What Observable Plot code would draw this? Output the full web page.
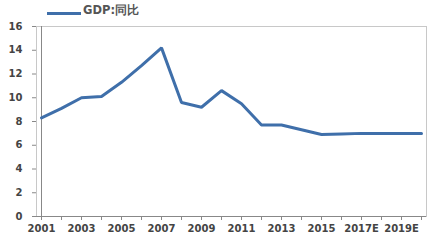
<!DOCTYPE html>
<html><head><meta charset="utf-8">
<script src="https://cdn.jsdelivr.net/npm/d3@7"></script>
<script src="https://cdn.jsdelivr.net/npm/@observablehq/plot@0.6"></script>
<style>
body{margin:0;background:#fff;font-family:"DejaVu Sans",Verdana,sans-serif;}
#legend{height:20px;position:relative;}
#legend .sw{position:absolute;left:47px;top:12px;width:34px;height:3px;background:#3f6faa;}
#legend .tx{position:absolute;left:83px;top:3px;font-size:11.5px;font-weight:bold;color:#555;}
</style></head>
<body>
<div id="legend"><span class="sw"></span><span class="tx">GDP:同比</span></div>
<div id="chart"></div>
<script>
const years = ["2001","2002","2003","2004","2005","2006","2007","2008","2009","2010","2011","2012","2013","2014","2015","2016E","2017E","2018E","2019E","2020E"];
const gdp = [8.3,9.1,10.0,10.1,11.3,12.7,14.2,9.6,9.2,10.6,9.5,7.7,7.7,7.3,6.9,6.95,7.0,7.0,7.0,7.0];
const yTicks = [0,2,4,6,8,10,12,14,16];
const labelYears = ["2001","2003","2005","2007","2009","2011","2013","2015","2017E","2019E"];
const data = years.map((y,i)=>({year:y, v:gdp[i]}));
const chart = Plot.plot({
  width:435, height:221,
  marginTop:6, marginBottom:25, marginLeft:36, marginRight:9,
  style:{fontFamily:"'DejaVu Sans',Verdana,sans-serif", fontSize:"10px", fontWeight:"bold", color:"#444", background:"#fff"},
  x:{type:"point", domain:years, padding:0, label:null},
  y:{domain:[0,16], label:null},
  marks:[
    Plot.frame({stroke:"#c8c8c8"}),
    Plot.axisX({ticks:years, tickSize:4, tickPadding:4, stroke:"#888", fill:"#444", label:null,
      tickFormat:d=>labelYears.includes(d)?d:"", fontSize:10, fontWeight:"bold"}),
    Plot.axisY({ticks:yTicks, tickSize:4, tickPadding:10, stroke:"#888", fill:"#444", label:null, fontSize:10, fontWeight:"bold"}),
    Plot.ruleX([years[0]],{stroke:"#888"}),
    Plot.ruleY([0],{stroke:"#888"}),
    Plot.line(data,{x:"year", y:"v", stroke:"#3f6faa", strokeWidth:3, strokeLinejoin:"miter"})
  ]
});
document.getElementById("chart").appendChild(chart);
</script>
</body></html>
